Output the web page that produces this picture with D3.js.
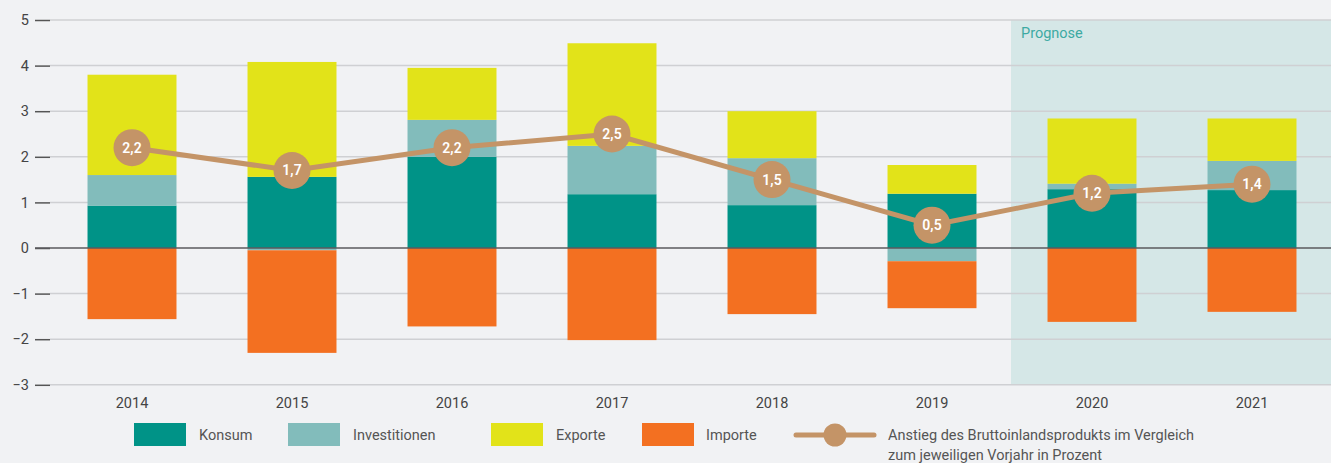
<!DOCTYPE html>
<html>
<head>
<meta charset="utf-8">
<script src="https://cdn.jsdelivr.net/npm/d3@7"></script>
<style>
  body { margin: 0; background: #F1F2F4; }
  svg { display: block; font-family: Roboto, "Open Sans", sans-serif; }
</style>
</head>
<body>
<div id="chart"></div>
<script>
// Years on the x axis
const years = ['2014', '2015', '2016', '2017', '2018', '2019', '2020', '2021'];
// Contributions in percentage points
const konsum = [0.93, 1.56, 2.0, 1.18, 0.94, 1.19, 1.29, 1.27];
const investitionen = [0.67, -0.05, 0.81, 1.06, 1.03, -0.29, 0.12, 0.64];
const exporte = [2.2, 2.52, 1.14, 2.25, 1.03, 0.63, 1.43, 0.93];
const importe = [-1.56, -2.25, -1.72, -2.02, -1.45, -1.03, -1.62, -1.4];
// GDP growth (line)
const bip = [2.2, 1.7, 2.2, 2.5, 1.5, 0.5, 1.2, 1.4];
const bipLabels = ['2,2', '1,7', '2,2', '2,5', '1,5', '0,5', '1,2', '1,4'];
// Forecast years
const prognoseYears = ['2020', '2021'];
// Y ticks
const yTicks = [-3, -2, -1, 0, 1, 2, 3, 4, 5];

// Series definitions
const seriesKeys = ['Konsum', 'Investitionen', 'Exporte', 'Importe'];
const colors = {
    Konsum: '#009387',
    Investitionen: '#82BCBB',
    Exporte: '#E2E319',
    Importe: '#F37021'
};
const lineColor = '#C49467';

const width = 1331;
const height = 463;

// Build table for the stack layout
const table = years.map((y, i) => ({
    year: y,
    Konsum: konsum[i],
    Investitionen: investitionen[i],
    Exporte: exporte[i],
    Importe: importe[i]
}));

const stacked = d3.stack()
    .keys(seriesKeys)
    .offset(d3.stackOffsetDiverging)(table);

const xScale = d3.scaleBand()
    .domain(years)
    .range([52, 1332])
    .paddingInner(0.444)
    .paddingOuter(0.222);

const yScale = d3.scaleLinear()
    .domain([-3, 5])
    .range([384.8, 20]);

const svg = d3.select('#chart').append('svg')
    .attr('width', width)
    .attr('height', height);

svg.append('rect')
    .attr('width', width)
    .attr('height', height)
    .attr('fill', '#F1F2F4');

// Forecast area
const gap = xScale.step() - xScale.bandwidth();
const progX = xScale(prognoseYears[0]) - gap / 2 - 1;
svg.append('rect')
    .attr('x', progX)
    .attr('y', yScale(5))
    .attr('width', width - progX)
    .attr('height', yScale(-3) - yScale(5))
    .attr('fill', '#D5E7E7');

svg.append('text')
    .attr('x', progX + 10)
    .attr('y', yScale(5) + 18)
    .attr('fill', '#3DAAA3')
    .style('font-size', '14.5px')
    .text('Prognose');

// Gridlines
svg.append('g')
    .selectAll('line')
    .data(yTicks.filter(t => t !== 0))
    .enter().append('line')
    .attr('x1', 50)
    .attr('x2', width)
    .attr('y1', d => yScale(d))
    .attr('y2', d => yScale(d))
    .attr('stroke', '#CFD0D3')
    .attr('stroke-width', 1.5);

// Y axis (ticks + labels)
const yAxis = svg.append('g')
    .attr('transform', 'translate(50, 0)')
    .call(d3.axisLeft(yScale)
        .tickValues(yTicks)
        .tickSize(15)
        .tickPadding(6)
        .tickFormat(d => d < 0 ? '\u2212' + Math.abs(d) : d));
yAxis.select('.domain').remove();
yAxis.selectAll('line').attr('stroke', '#555').attr('stroke-width', 1.5);
yAxis.selectAll('text')
    .attr('fill', '#444')
    .style('font-size', '14.5px')
    .style('font-family', 'Roboto, sans-serif');

// Bars
svg.append('g')
    .selectAll('g')
    .data(stacked)
    .enter().append('g')
    .attr('fill', d => colors[d.key])
    .selectAll('rect')
    .data(d => d)
    .enter().append('rect')
    .attr('x', d => xScale(d.data.year))
    .attr('y', d => yScale(Math.max(d[0], d[1])))
    .attr('width', xScale.bandwidth())
    .attr('height', d => Math.abs(yScale(d[0]) - yScale(d[1])));

// Zero line
svg.append('line')
    .attr('x1', 35)
    .attr('x2', width)
    .attr('y1', yScale(0))
    .attr('y2', yScale(0))
    .attr('stroke', '#5A5A5E')
    .attr('stroke-width', 1.5);

// X axis labels
const xAxis = svg.append('g')
    .attr('transform', `translate(0, ${yScale(-3)})`)
    .call(d3.axisBottom(xScale).tickSize(0).tickPadding(13));
xAxis.select('.domain').remove();
xAxis.selectAll('text')
    .attr('fill', '#444')
    .style('font-size', '14.5px')
    .style('font-family', 'Roboto, sans-serif');

// GDP line
const cx = d => xScale(d.year) + xScale.bandwidth() / 2;
const lineData = years.map((y, i) => ({ year: y, v: bip[i], label: bipLabels[i] }));

svg.append('path')
    .datum(lineData)
    .attr('fill', 'none')
    .attr('stroke', lineColor)
    .attr('stroke-width', 5)
    .attr('d', d3.line().x(cx).y(d => yScale(d.v)));

svg.append('g')
    .selectAll('circle')
    .data(lineData)
    .enter().append('circle')
    .attr('cx', cx)
    .attr('cy', d => yScale(d.v))
    .attr('r', 18.5)
    .attr('fill', lineColor);

svg.append('g')
    .selectAll('text')
    .data(lineData)
    .enter().append('text')
    .attr('x', cx)
    .attr('y', d => yScale(d.v) + 5)
    .attr('text-anchor', 'middle')
    .attr('fill', '#fff')
    .style('font-size', '14px')
    .style('font-weight', '600')
    .text(d => d.label);

// Legend
const legendItems = [
    { key: 'Konsum', x: 134, tx: 199 },
    { key: 'Investitionen', x: 288, tx: 353 },
    { key: 'Exporte', x: 491, tx: 556 },
    { key: 'Importe', x: 642, tx: 706 }
];
const legend = svg.append('g');
legend.selectAll('rect')
    .data(legendItems)
    .enter().append('rect')
    .attr('x', d => d.x)
    .attr('y', 423)
    .attr('width', 52)
    .attr('height', 23)
    .attr('fill', d => colors[d.key]);
legend.selectAll('text')
    .data(legendItems)
    .enter().append('text')
    .attr('x', d => d.tx)
    .attr('y', 440)
    .attr('fill', '#555')
    .style('font-size', '14.5px')
    .text(d => d.key);

legend.append('line')
    .attr('x1', 796).attr('x2', 874)
    .attr('y1', 435).attr('y2', 435)
    .attr('stroke', lineColor)
    .attr('stroke-width', 5)
    .attr('stroke-linecap', 'round');
legend.append('circle')
    .attr('cx', 835).attr('cy', 435).attr('r', 11.5)
    .attr('fill', lineColor);
const lt = legend.append('text')
    .attr('fill', '#555')
    .style('font-size', '14.5px');
lt.append('tspan').attr('x', 888).attr('y', 440)
    .text('Anstieg des Bruttoinlandsprodukts im Vergleich');
lt.append('tspan').attr('x', 888).attr('y', 460)
    .text('zum jeweiligen Vorjahr in Prozent');
</script>
</body>
</html>
